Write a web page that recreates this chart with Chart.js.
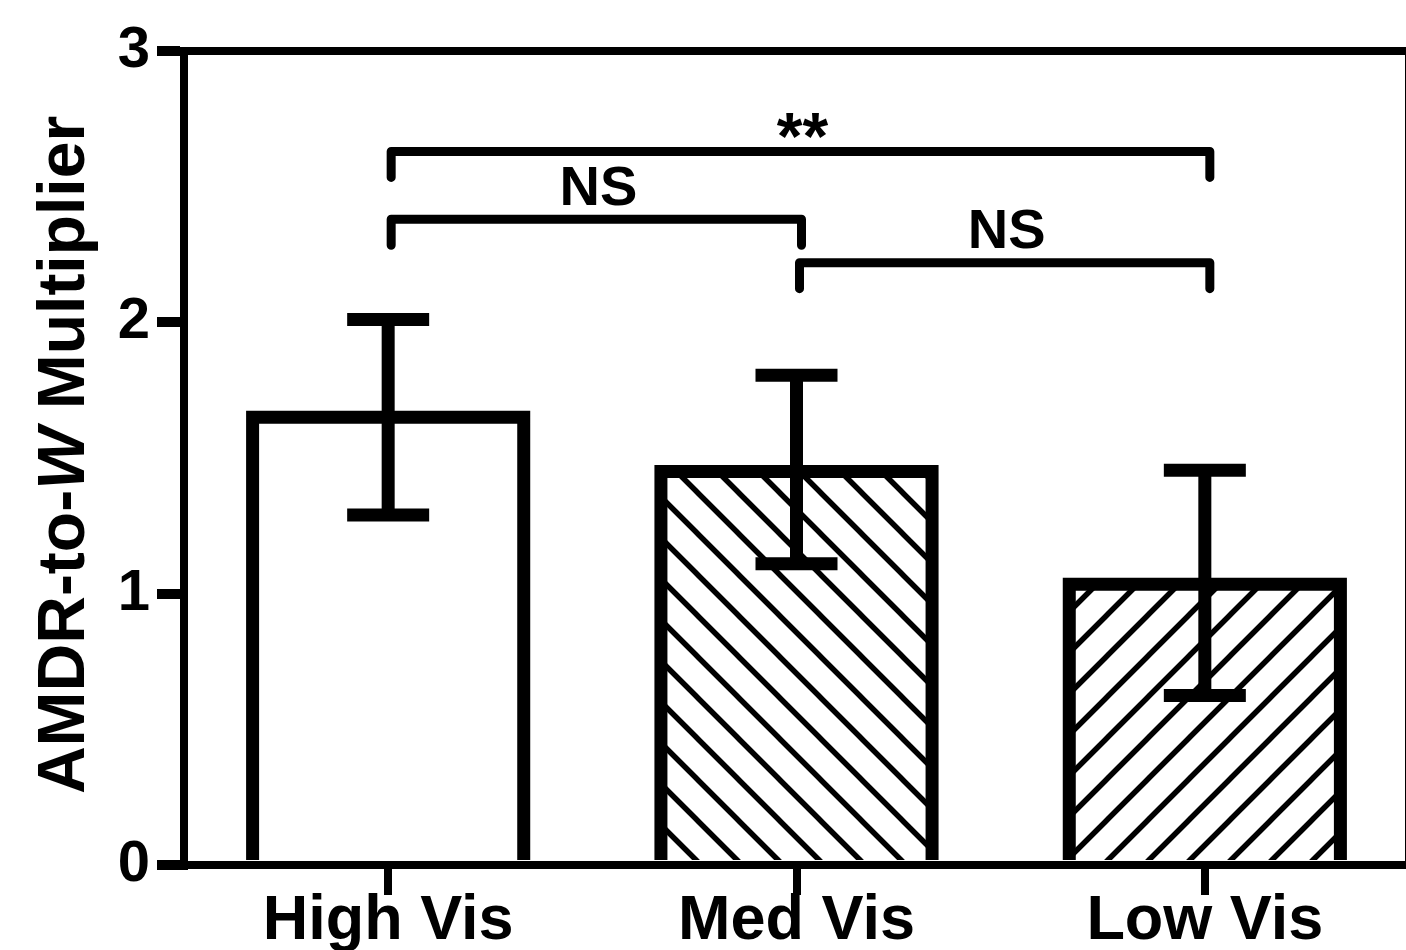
<!DOCTYPE html>
<html>
<head>
<meta charset="utf-8">
<script src="https://cdn.jsdelivr.net/npm/chart.js@4.4.1/dist/chart.umd.min.js"></script>
<style>
  html, body { margin: 0; padding: 0; background: #fff; overflow: hidden; }
  #wrap { width: 1406px; height: 950px; overflow: hidden; }
  canvas { display: block; }
</style>
</head>
<body>
<div id="wrap"><canvas id="chart" width="1420" height="970"></canvas></div>
<script>
// values
const categories = ['High Vis', 'Med Vis', 'Low Vis'];
const means = [1.65, 1.45, 1.035];
const errUpper = [2.01, 1.805, 1.455];
const errLower = [1.29, 1.11, 0.625];
const fillKinds = ['none', 'back', 'forward'];
const yTicks = [0, 1, 2, 3];

// significance brackets
const bracketFrom = [0, 0, 1];
const bracketTo = [2, 1, 2];
const bracketLevel = [2.63, 2.38, 2.22];
const bracketLabel = ['**', 'NS', 'NS'];

const yTitleParts = ['AMDR-to-', 'W', ' Multiplier'];

const FONT = '"Liberation Sans", Arial, sans-serif';
const canvas = document.getElementById('chart');
const mainCtx = canvas.getContext('2d');

function hatch(dir) {
  const s = 41;
  const c = document.createElement('canvas');
  c.width = s; c.height = s;
  const g = c.getContext('2d');
  g.strokeStyle = '#000';
  g.lineWidth = 5.5;
  g.lineCap = 'square';
  g.beginPath();
  for (let k = -1; k <= 1; k++) {
    if (dir === 'forward') { g.moveTo(k * s, s); g.lineTo(k * s + s, 0); }
    else { g.moveTo(k * s, 0); g.lineTo(k * s + s, s); }
  }
  g.stroke();
  return mainCtx.createPattern(c, 'repeat');
}

const fills = fillKinds.map(k => k === 'none' ? 'rgba(0,0,0,0)' : hatch(k));

const decor = {
  id: 'decor',
  afterDatasetsDraw(chart) {
    const ctx = chart.ctx;
    const y = chart.scales.y;
    const bars = chart.getDatasetMeta(0).data;
    ctx.save();
    ctx.strokeStyle = '#000';
    ctx.fillStyle = '#000';

    // bar outlines, stroke centred on the bar edge
    ctx.lineWidth = 13;
    ctx.lineJoin = 'miter';
    ctx.lineCap = 'butt';
    bars.forEach(b => {
      const p = b.getProps(['x', 'y', 'base', 'width'], true);
      const l = p.x - p.width / 2, r = p.x + p.width / 2;
      ctx.beginPath();
      ctx.moveTo(l, p.base);
      ctx.lineTo(l, p.y);
      ctx.lineTo(r, p.y);
      ctx.lineTo(r, p.base);
      ctx.stroke();
    });

    // error bars
    bars.forEach((b, i) => {
      const x = b.x;
      const yt = y.getPixelForValue(errUpper[i]);
      const yb = y.getPixelForValue(errLower[i]);
      ctx.beginPath();
      ctx.moveTo(x, yt); ctx.lineTo(x, yb);
      ctx.moveTo(x - 41, yt); ctx.lineTo(x + 41, yt);
      ctx.moveTo(x - 41, yb); ctx.lineTo(x + 41, yb);
      ctx.stroke();
    });

    // brackets + labels
    ctx.lineWidth = 9;
    ctx.lineCap = 'round';
    ctx.lineJoin = 'round';
    bracketLabel.forEach((lab, i) => {
      const x1 = bars[bracketFrom[i]].x + 3;
      const x2 = bars[bracketTo[i]].x + 5;
      const ly = y.getPixelForValue(bracketLevel[i]);
      ctx.beginPath();
      ctx.moveTo(x1, ly + 26);
      ctx.lineTo(x1, ly);
      ctx.lineTo(x2, ly);
      ctx.lineTo(x2, ly + 26);
      ctx.stroke();

      ctx.font = (lab === '**' ? 'bold 66px ' : 'bold 56px ') + FONT;
      ctx.textAlign = 'center';
      ctx.textBaseline = 'alphabetic';
      const m = ctx.measureText(lab);
      const base = ly - 4.5 - 9 - m.actualBoundingBoxDescent;
      ctx.fillText(lab, (x1 + x2) / 2 + 2, base);
    });
    ctx.restore();
  },
  afterDraw(chart) {
    const ctx = chart.ctx;
    const a = chart.chartArea;
    ctx.save();
    ctx.strokeStyle = '#000';
    ctx.lineWidth = 8;
    ctx.lineJoin = 'miter';
    ctx.beginPath();
    ctx.moveTo(a.left - 27, a.top);
    ctx.lineTo(a.right, a.top);
    ctx.lineTo(a.right, a.bottom);
    ctx.stroke();

    // y-axis title with italic W
    ctx.fillStyle = '#000';
    ctx.textBaseline = 'alphabetic';
    ctx.textAlign = 'left';
    const fonts = ['bold 66px ' + FONT, 'italic bold 66px ' + FONT, 'bold 66px ' + FONT];
    let total = 0;
    const widths = yTitleParts.map((t, i) => { ctx.font = fonts[i]; const w = ctx.measureText(t).width; total += w; return w; });
    ctx.translate(84, (a.top + a.bottom) / 2 - 3);
    ctx.rotate(-Math.PI / 2);
    let x = -total / 2;
    yTitleParts.forEach((t, i) => { ctx.font = fonts[i]; ctx.fillText(t, x, 0); x += widths[i]; });
    ctx.restore();
  }
};

new Chart(canvas, {
  type: 'bar',
  data: {
    labels: categories,
    datasets: [{
      data: means,
      backgroundColor: fills,
      borderWidth: 0,
      barPercentage: 0.664,
      categoryPercentage: 1
    }]
  },
  options: {
    responsive: false,
    maintainAspectRatio: false,
    devicePixelRatio: 1,
    animation: false,
    events: [],
    layout: { padding: { left: 0, top: 51, right: 11, bottom: 0 } },
    plugins: { legend: { display: false }, tooltip: { enabled: false } },
    scales: {
      x: {
        offset: true,
        afterFit(s) { s.height = 105; },
        border: { display: true, color: '#000', width: 8 },
        grid: { offset: false, drawOnChartArea: false, drawTicks: true, tickLength: 30, tickWidth: 8, tickColor: '#000', color: '#000', lineWidth: 8 },
        ticks: { color: '#000', padding: -5, maxRotation: 0, font: { family: FONT, size: 63, weight: 'bold', lineHeight: 1 } }
      },
      y: {
        min: 0,
        max: 3,
        afterBuildTicks(s) { s.ticks = yTicks.map(v => ({ value: v })); },
        afterFit(s) { s.width = 184; },
        border: { display: true, color: '#000', width: 8 },
        grid: { drawOnChartArea: false, drawTicks: true, tickLength: 27, tickWidth: 10, tickColor: '#000', color: '#000', lineWidth: 10 },
        ticks: { color: '#000', padding: 7, font: { family: FONT, size: 58, weight: 'bold' }, callback: v => String(v) }
      }
    }
  },
  plugins: [decor]
});
</script>
</body>
</html>
